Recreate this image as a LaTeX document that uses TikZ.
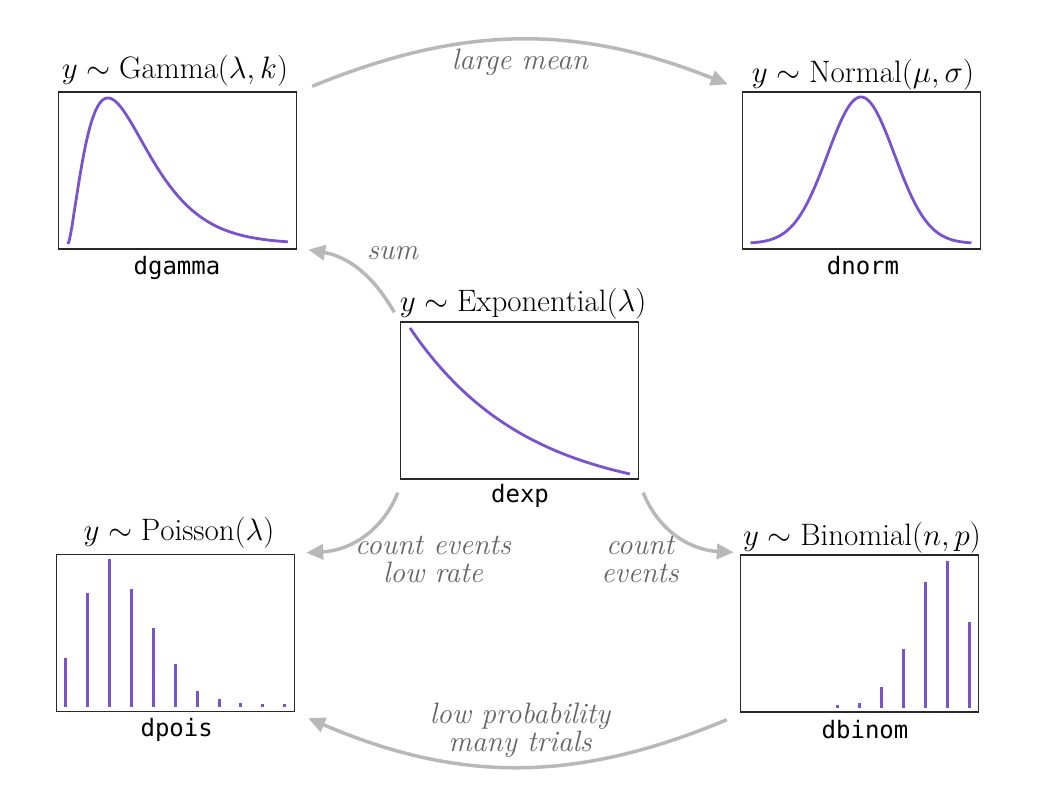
\RequirePackage{fix-cm}
\documentclass[tikz,border=0pt]{standalone}
\usepackage{fontspec}
\newfontfamily\codefont{DejaVu Sans Mono}
\usetikzlibrary{arrows.meta}
\definecolor{curvepurple}{RGB}{122,82,204}
\definecolor{arrowgray}{RGB}{184,184,184}
\definecolor{labelgray}{RGB}{100,100,100}
\definecolor{boxline}{RGB}{40,40,40}
\begin{document}
\begin{tikzpicture}[x=1pt,y=1pt,
  plotbox/.style={draw=boxline, line width=1.4pt, minimum width=238pt, minimum height=157pt, inner sep=0pt},
  titletext/.style={anchor=base, font=\fontsize{31}{36}\selectfont, inner sep=0pt},
  codetext/.style={anchor=base, font=\codefont\fontsize{24}{28}\selectfont, inner sep=0pt},
  edgelabel/.style={anchor=base, font=\itshape\fontsize{29.5}{28.5}\selectfont, text=labelgray, align=center, inner sep=0pt},
  flow/.style={draw=arrowgray, line width=3.5pt, -{Triangle[length=17pt,width=15pt]}},
  density/.style={draw=curvepurple, line width=2.8pt, line join=round},
  spike/.style={draw=curvepurple, line width=3pt}
]
\useasboundingbox (0,0) rectangle (1037,799);
% boxes
\node[plotbox] (g) at (177.5,628.5) {};
\node[plotbox] (n) at (861.5,628.5) {};
\node[plotbox] (e) at (519.5,398.5) {};
\node[plotbox] (p) at (175.5,166) {};
\node[plotbox] (b) at (859.5,165.5) {};
% titles
\node[titletext] (gt) at (175,720) {$y\sim\mathrm{Gamma}(\lambda,k)$};
\node[titletext] (nt) at (863,716) {$y\sim\mathrm{Normal}(\mu,\sigma)$};
\node[titletext] (et) at (523,487) {$y\sim\mathrm{Exponential}(\lambda)$};
\node[titletext] (pt) at (179,258) {$y\sim\mathrm{Poisson}(\lambda)$};
\node[titletext] (bt) at (862,253) {$y\sim\mathrm{Binomial}(n,p)$};
% code labels
\node[codetext] (gc) at (177,524) {dgamma};
\node[codetext] (nc) at (863,524) {dnorm};
\node[codetext] (ec) at (520,296) {dexp};
\node[codetext] (pc) at (176.7,62.3) {dpois};
\node[codetext] (bc) at (865,60.7) {dbinom};
% curves
\draw[density] plot[domain=0.001:8.27, samples=160, smooth] ({68+26.6*\x},{555+146*pow(\x/1.5,1.5)*exp(1.5-\x)});
\draw[density] plot[domain=-3.3:3.3, samples=150, smooth] ({861+33.5*\x},{555.5+146.5*exp(-0.5*\x*\x)});
\draw[density] plot[domain=0:1, samples=80, smooth] ({410+220*\x},{299+172*exp(-1.889*\x)});
\foreach \i/\h in {0/49,1/114,2/147.4,3/117.4,4/78.4,5/42.7,6/16,7/7.4,8/3.4,9/2.8,10/2.5}
  \draw[spike] ({65.7+21.9*\i},92.3) -- ++(0,\h);
\foreach \i/\h in {4/2.6,5/5,6/20.4,7/58.7,8/125.4,9/147,10/85.4}
  \draw[spike] ({749.6+22.0*\i},91.3) -- ++(0,\h);
% connectors
\draw[flow] ([shift={(15,5)}]g.north east) to[bend left=22] ([shift={(-14,7)}]n.north west);
\draw[flow] ([shift={(-5.5,9)}]e.north west) to[out=120,in=-10] ([shift={(11,0)}]g.south east);
\draw[flow] ([shift={(-2,-13)}]e.south west) to[out=-112,in=3] ([shift={(11,1)}]p.north east);
\draw[flow] ([shift={(4,-13)}]e.south east) to[out=-68,in=177] ([shift={(-6,2)}]b.north west);
\draw[flow] ([shift={(-13,-7)}]b.south west) to[bend left=23] ([shift={(13,-6)}]p.south east);
% connector labels
\node[edgelabel] (l1) at (520,729) {large mean};
\node[edgelabel] (l2) at (392.5,539) {sum};
\node[edgelabel] (l3) at (433,216) {count events\\low rate};
\node[edgelabel] (l4) at (640,216) {count\\events};
\node[edgelabel] (l5) at (520,47) {low probability\\many trials};
\end{tikzpicture}
\end{document}
